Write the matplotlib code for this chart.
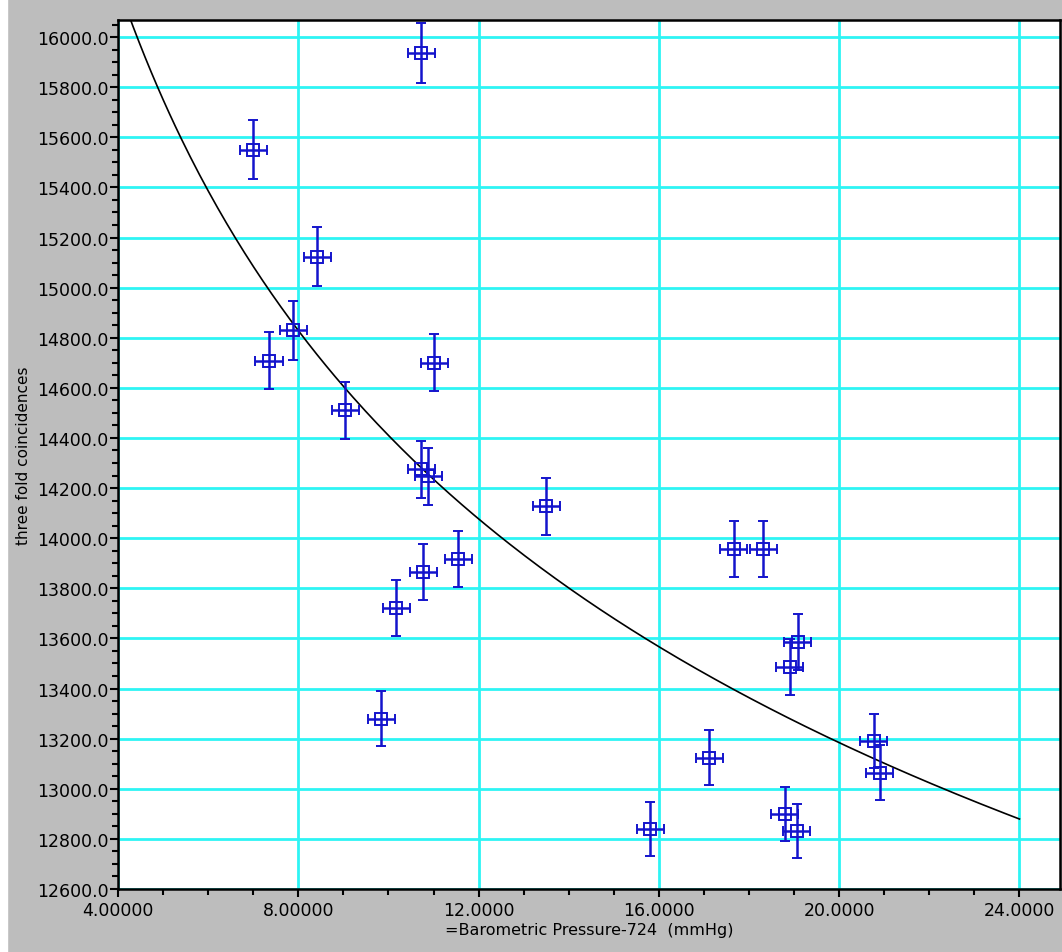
import matplotlib

matplotlib.use("Agg")
import matplotlib.pyplot as plt
import numpy as np
from matplotlib.ticker import MultipleLocator

# barometric pressure - 724 (mmHg) and three-fold coincidence counts
pressure = [10.73, 7.00, 8.42, 7.89, 7.35, 11.02, 9.04, 10.73, 10.88, 13.50,
            11.55, 10.77, 10.17, 9.84, 17.66, 18.32, 19.08, 18.90, 15.81, 17.12,
            18.79, 19.06, 20.77, 20.90]
counts = [15936, 15550, 15124, 14829, 14709, 14701, 14510, 14275, 14247, 14127,
          13916, 13865, 13721, 13279, 13956, 13956, 13586, 13486, 12841, 13124,
          12900, 12833, 13191, 13064]
count_err = [119, 118, 117, 116, 115, 115, 114, 114, 113, 113,
             112, 112, 112, 110, 112, 112, 111, 111, 108, 109,
             108, 108, 109, 109]
pressure_err = [0.3] * len(pressure)

# power-law fit shown in the reference: y = A * x**B
CURVE_A = 19363.0
CURVE_B = -0.1283
curve_range = (4.0, 24.0)

xticks = [4, 8, 12, 16, 20, 24]
xtick_labels = ["4.00000", "8.00000", "12.0000", "16.0000", "20.0000", "24.0000"]
yticks = list(range(12600, 16001, 200))
ytick_labels = [f"{v:.1f}" for v in yticks]

fig = plt.figure(figsize=(10.62, 9.53), dpi=100, facecolor="#bdbdbd")
fig.patches.append(plt.Rectangle((0, 0), 7 / 1062, 1, transform=fig.transFigure,
                                 color="white", zorder=0))
ax = fig.add_axes([118 / 1062, 1 - 890 / 953, (1060 - 118) / 1062, (890 - 21) / 953])
ax.set_facecolor("white")

ax.set_xlim(4.0, 24.9)
ax.set_ylim(12600, 16068)

ax.grid(True, which="major", color="#2ef4f4", linewidth=2.0, zorder=0)
ax.set_axisbelow(True)

xc = np.linspace(curve_range[0], curve_range[1], 300)
ax.plot(xc, CURVE_A * xc ** CURVE_B, color="black", linewidth=1.2, zorder=2)

ax.errorbar(pressure, counts, xerr=pressure_err, yerr=count_err, fmt="s",
            mfc="none", mec="#1414cc", ms=9, mew=1.4, ecolor="#1414cc",
            elinewidth=1.8, capsize=3.8, capthick=1.8, zorder=3)

ax.set_xticks(xticks)
ax.set_xticklabels(xtick_labels)
ax.set_yticks(yticks)
ax.set_yticklabels(ytick_labels)
ax.xaxis.set_minor_locator(MultipleLocator(1))
ax.yaxis.set_minor_locator(MultipleLocator(50))
ax.tick_params(which="major", direction="out", length=6, width=1.5, labelsize=12.5,
               colors="black", pad=1)
ax.tick_params(which="minor", direction="out", length=4, width=1.5)
ax.tick_params(axis="x", which="major", pad=3)

for side in ("left", "bottom", "top", "right"):
    ax.spines[side].set_linewidth(1.8)
    ax.spines[side].set_color("black")

ax.set_xlabel("=Barometric Pressure-724  (mmHg)", fontsize=11.5, labelpad=2)
ax.set_ylabel("three fold coincidences", fontsize=11, labelpad=4)

fig.savefig("out.png", dpi=100, facecolor=fig.get_facecolor())
plt.close(fig)
